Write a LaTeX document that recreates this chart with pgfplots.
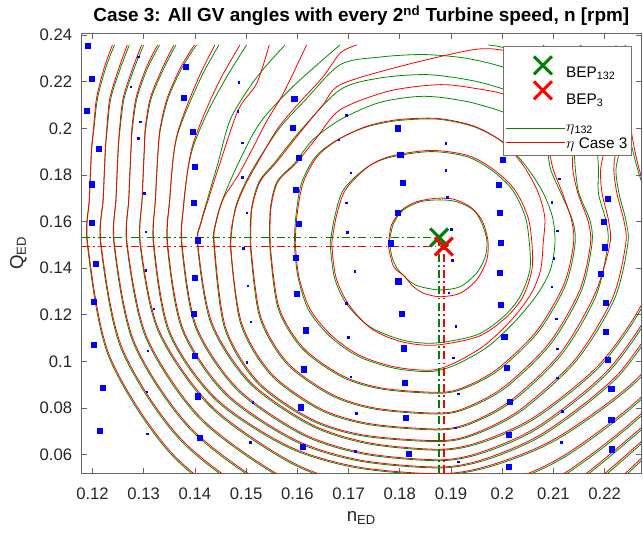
\documentclass[border=0pt]{standalone}
\usepackage{fontspec}
\setmainfont{Liberation Sans}
\usepackage{pgfplots}
\pgfplotsset{compat=1.18}
\definecolor{cg}{rgb}{0,0.5,0}
\definecolor{cgl}{rgb}{0,0.55,0}
\pgfplotsset{
 gc/.style={color=cgl, line width=0.6pt, smooth, no markers, forget plot},
 rc/.style={color=red, line width=0.6pt, smooth, no markers, forget plot}
}
\begin{document}
\begin{tikzpicture}
\begin{axis}[
 at={(0pt,0pt)}, anchor=south west,
 scale only axis, width=419.5pt, height=330pt,
 xmin=0.1179, xmax=0.2271, ymin=0.0521, ymax=0.2407,
 xtick={0.12,0.13,0.14,0.15,0.16,0.17,0.18,0.19,0.20,0.21,0.22},
 xticklabels={0.12,0.13,0.14,0.15,0.16,0.17,0.18,0.19,0.2,0.21,0.22},
 ytick={0.06,0.08,0.10,0.12,0.14,0.16,0.18,0.20,0.22,0.24},
 yticklabels={0.06,0.08,0.1,0.12,0.14,0.16,0.18,0.2,0.22,0.24},
 tick align=inside, major tick length=4pt,
 axis line style={black!60, line width=0.6pt},
 every tick/.style={black!60, line width=0.6pt},
 xticklabel style={font=\fontsize{12.5}{14}\selectfont, anchor=base, inner sep=0pt, yshift=-20pt, text=black!85},
 yticklabel style={font=\fontsize{12.5}{14}\selectfont, anchor=east, inner sep=0pt, xshift=-7pt, text=black!85},
 xlabel={n\textsubscript{ED}},
 ylabel={Q\textsubscript{ED}},
 xlabel style={at={(axis description cs:0.5,-0.1106)}, anchor=base, font=\fontsize{14}{16}\selectfont, inner sep=0pt, text=black!85},
 ylabel style={at={(axis description cs:-0.105,0.5)}, anchor=base, rotate=0, font=\fontsize{14}{16}\selectfont, inner sep=0pt, text=black!85},
 title={Case 3: All GV angles with every 2\textsuperscript{nd} Turbine speed, n [rpm]},
 every axis title/.style={at={(axis description cs:0.5,1.0258)}, anchor=base, font=\bfseries\fontsize{14.2}{16}\selectfont, inner sep=0pt},
 legend style={at={(0.9834,0.9711)}, anchor=north east, draw=black!55, fill=white, line width=0.5pt,
   font=\fontsize{11.5}{13}\selectfont, inner xsep=1.7pt, inner ysep=3.5pt,
   nodes={inner ysep=0pt, inner xsep=1.3pt}, row sep=0pt},
 legend cell align=left,
]
% ---------------- green contours (eta 132) ----------------
\addplot[gc] coordinates {(0.1780,0.1521)(0.1781,0.1493)(0.1786,0.1440)(0.1797,0.1393)(0.1820,0.1343)(0.1840,0.1321)(0.1879,0.1307)(0.1918,0.1321)(0.1950,0.1379)(0.1967,0.1450)(0.1970,0.1521)(0.1960,0.1593)(0.1944,0.1650)(0.1911,0.1685)(0.1879,0.1693)(0.1840,0.1685)(0.1807,0.1650)(0.1788,0.1593)(0.1780,0.1521)};
\addplot[gc] coordinates {(0.1664,0.1507)(0.1673,0.1621)(0.1690,0.1736)(0.1734,0.1830)(0.1780,0.1875)(0.1860,0.1900)(0.1930,0.1879)(0.1979,0.1821)(0.2020,0.1736)(0.2045,0.1621)(0.2053,0.1507)(0.2054,0.1393)(0.2035,0.1279)(0.2003,0.1193)(0.1950,0.1114)(0.1867,0.1079)(0.1804,0.1093)(0.1741,0.1150)(0.1695,0.1250)(0.1672,0.1364)(0.1664,0.1507)};
\addplot[gc] coordinates {(0.1594,0.1507)(0.1597,0.1621)(0.1608,0.1764)(0.1636,0.1879)(0.1678,0.1950)(0.1734,0.2005)(0.1797,0.2033)(0.1874,0.2039)(0.1944,0.2007)(0.2000,0.1943)(0.2042,0.1850)(0.2077,0.1736)(0.2098,0.1621)(0.2103,0.1507)(0.2094,0.1393)(0.2070,0.1293)(0.2028,0.1179)(0.1972,0.1064)(0.1909,0.0986)(0.1860,0.0957)(0.1790,0.0971)(0.1720,0.1021)(0.1664,0.1107)(0.1622,0.1221)(0.1601,0.1364)(0.1594,0.1507)};
\addplot[gc] coordinates {(0.1546,0.1500)(0.1547,0.1650)(0.1560,0.1770)(0.1595,0.1851)(0.1630,0.1950)(0.1684,0.2037)(0.1760,0.2110)(0.1846,0.2137)(0.1930,0.2115)(0.2006,0.2066)(0.2050,0.2010)(0.2075,0.1950)(0.2088,0.1900)(0.2095,0.1820)(0.2115,0.1720)(0.2138,0.1600)(0.2142,0.1500)(0.2123,0.1324)(0.2070,0.1126)(0.1994,0.0965)(0.1932,0.0890)(0.1880,0.0864)(0.1767,0.0881)(0.1688,0.0933)(0.1610,0.1054)(0.1562,0.1231)(0.1546,0.1500)};
\addplot[gc] coordinates {(0.1508,0.1500)(0.1510,0.1650)(0.1525,0.1770)(0.1555,0.1851)(0.1610,0.2000)(0.1684,0.2166)(0.1760,0.2215)(0.1853,0.2230)(0.1940,0.2205)(0.2006,0.2165)(0.2060,0.2110)(0.2105,0.2040)(0.2130,0.1960)(0.2140,0.1900)(0.2143,0.1820)(0.2150,0.1720)(0.2172,0.1600)(0.2175,0.1500)(0.2154,0.1300)(0.2094,0.1073)(0.2008,0.0890)(0.1938,0.0805)(0.1880,0.0775)(0.1754,0.0795)(0.1667,0.0854)(0.1579,0.0991)(0.1526,0.1193)(0.1508,0.1500)};
\addplot[gc] coordinates {(0.1469,0.1500)(0.1478,0.1650)(0.1495,0.1750)(0.1520,0.1851)(0.1565,0.2000)(0.1615,0.2120)(0.1684,0.2273)(0.1760,0.2305)(0.1846,0.2316)(0.1930,0.2300)(0.2006,0.2259)(0.2075,0.2190)(0.2135,0.2100)(0.2170,0.2000)(0.2185,0.1900)(0.2188,0.1820)(0.2188,0.1720)(0.2203,0.1600)(0.2206,0.1500)(0.2183,0.1281)(0.2117,0.1033)(0.2022,0.0833)(0.1945,0.0739)(0.1880,0.0707)(0.1741,0.0729)(0.1644,0.0793)(0.1548,0.0943)(0.1489,0.1164)(0.1469,0.1500)};
\addplot[gc] coordinates {(0.1683,0.2357)(0.1592,0.2180)(0.1527,0.2023)(0.1485,0.1851)(0.1455,0.1700)(0.1441,0.1600)(0.1437,0.1500)(0.1458,0.1143)(0.1522,0.0908)(0.1626,0.0749)(0.1730,0.0680)(0.1880,0.0657)(0.1952,0.0691)(0.2039,0.0791)(0.2145,0.1004)(0.2219,0.1267)(0.2245,0.1500)(0.2242,0.1600)(0.2228,0.1720)(0.2222,0.1820)(0.2228,0.1900)(0.2225,0.2000)(0.2200,0.2100)(0.2150,0.2200)(0.2080,0.2290)(0.2006,0.2344)(0.1973,0.2357)};
\addplot[gc] coordinates {(0.1576,0.2357)(0.1540,0.2270)(0.1508,0.2180)(0.1469,0.2037)(0.1445,0.1851)(0.1425,0.1700)(0.1412,0.1600)(0.1405,0.1500)(0.1431,0.1165)(0.1506,0.0909)(0.1625,0.0727)(0.1739,0.0647)(0.1880,0.0620)(0.1965,0.0656)(0.2067,0.0760)(0.2192,0.0982)(0.2279,0.1257)(0.2310,0.1500)(0.2290,0.1650)(0.2265,0.1820)(0.2250,0.1950)(0.2235,0.2100)(0.2226,0.2264)(0.2222,0.2357)};
\addplot[gc] coordinates {(0.1501,0.2357)(0.1462,0.2220)(0.1425,0.2070)(0.1398,0.1930)(0.1386,0.1820)(0.1378,0.1670)(0.1374,0.1500)(0.1401,0.1148)(0.1482,0.0879)(0.1609,0.0687)(0.1730,0.0603)(0.1880,0.0575)(0.1969,0.0613)(0.2076,0.0722)(0.2208,0.0956)(0.2299,0.1245)(0.2331,0.1500)};
\addplot[gc] coordinates {(0.1447,0.2357)(0.1417,0.2240)(0.1388,0.2100)(0.1367,0.1980)(0.1358,0.1880)(0.1351,0.1700)(0.1346,0.1500)(0.1375,0.1136)(0.1460,0.0858)(0.1594,0.0660)(0.1722,0.0573)(0.1880,0.0544)(0.1975,0.0583)(0.2088,0.0696)(0.2227,0.0937)(0.2324,0.1236)};
\addplot[gc] coordinates {(0.1403,0.2357)(0.1375,0.2260)(0.1348,0.2130)(0.1333,0.2000)(0.1328,0.1900)(0.1323,0.1700)(0.1319,0.1500)(0.1349,0.1125)(0.1439,0.0838)(0.1579,0.0635)(0.1714,0.0545)(0.1880,0.0515)(0.1985,0.0555)(0.2111,0.0671)(0.2265,0.0920)(0.2372,0.1228)};
\addplot[gc] coordinates {(0.1363,0.2357)(0.1340,0.2260)(0.1315,0.2130)(0.1304,0.2000)(0.1301,0.1900)(0.1297,0.1700)(0.1293,0.1500)(0.1328,0.1131)(0.1430,0.0806)(0.1587,0.0565)(0.1728,0.0457)(0.1880,0.0420)(0.1990,0.0464)(0.2122,0.0591)(0.2284,0.0864)(0.2396,0.1200)};
\addplot[gc] coordinates {(0.1331,0.2357)(0.1308,0.2260)(0.1287,0.2130)(0.1278,0.2000)(0.1275,0.1900)(0.1271,0.1700)(0.1267,0.1500)(0.1304,0.1103)(0.1410,0.0754)(0.1574,0.0495)(0.1721,0.0379)(0.1880,0.0340)(0.1993,0.0387)(0.2129,0.0524)(0.2295,0.0817)(0.2411,0.1180)};
\addplot[gc] coordinates {(0.1300,0.2357)(0.1282,0.2260)(0.1262,0.2130)(0.1254,0.2000)(0.1250,0.1900)(0.1246,0.1700)(0.1242,0.1500)(0.1280,0.1079)(0.1391,0.0709)(0.1561,0.0435)(0.1715,0.0312)(0.1880,0.0270)(0.1997,0.0320)(0.2136,0.0465)(0.2308,0.0776)};
\addplot[gc] coordinates {(0.1272,0.2357)(0.1255,0.2260)(0.1236,0.2130)(0.1229,0.2000)(0.1225,0.1900)(0.1221,0.1700)(0.1216,0.1500)(0.1256,0.1055)(0.1371,0.0664)(0.1548,0.0374)(0.1708,0.0244)(0.1880,0.0200)(0.1999,0.0253)(0.2141,0.0406)(0.2316,0.0735)};
\addplot[gc] coordinates {(0.1243,0.2357)(0.1226,0.2260)(0.1210,0.2130)(0.1203,0.2000)(0.1198,0.1900)(0.1194,0.1700)(0.1190,0.1500)(0.1231,0.1025)(0.1352,0.0606)(0.1535,0.0296)(0.1701,0.0157)(0.1880,0.0110)(0.2001,0.0167)(0.2146,0.0330)(0.2323,0.0682)};
% ---------------- red contours (eta Case 3) ----------------
\addplot[rc] coordinates {(0.1779,0.1521)(0.1778,0.1493)(0.1788,0.1407)(0.1810,0.1364)(0.1823,0.1328)(0.1846,0.1293)(0.1879,0.1278)(0.1918,0.1293)(0.1950,0.1350)(0.1970,0.1436)(0.1972,0.1521)(0.1960,0.1607)(0.1937,0.1664)(0.1905,0.1696)(0.1872,0.1700)(0.1833,0.1685)(0.1804,0.1650)(0.1784,0.1586)(0.1779,0.1521)};
\addplot[rc] coordinates {(0.1667,0.1507)(0.1676,0.1621)(0.1694,0.1736)(0.1737,0.1833)(0.1782,0.1880)(0.1860,0.1905)(0.1932,0.1884)(0.1982,0.1825)(0.2024,0.1738)(0.2050,0.1621)(0.2058,0.1507)(0.2058,0.1393)(0.2040,0.1276)(0.2007,0.1188)(0.1953,0.1107)(0.1867,0.1070)(0.1802,0.1086)(0.1745,0.1140)(0.1700,0.1245)(0.1675,0.1364)(0.1667,0.1507)};
\addplot[rc] coordinates {(0.1596,0.1507)(0.1599,0.1621)(0.1611,0.1764)(0.1639,0.1879)(0.1681,0.1953)(0.1736,0.2009)(0.1797,0.2037)(0.1874,0.2042)(0.1944,0.2010)(0.1998,0.1945)(0.2038,0.1850)(0.2068,0.1736)(0.2083,0.1621)(0.2080,0.1507)(0.2075,0.1393)(0.2057,0.1293)(0.2020,0.1183)(0.1966,0.1070)(0.1905,0.0992)(0.1860,0.0963)(0.1790,0.0977)(0.1722,0.1026)(0.1667,0.1111)(0.1625,0.1224)(0.1603,0.1364)(0.1596,0.1507)};
\addplot[rc] coordinates {(0.1547,0.1500)(0.1548,0.1650)(0.1562,0.1770)(0.1598,0.1851)(0.1638,0.1960)(0.1684,0.2080)(0.1780,0.2160)(0.1879,0.2187)(0.1950,0.2170)(0.2006,0.2144)(0.2050,0.2090)(0.2080,0.2010)(0.2092,0.1900)(0.2100,0.1820)(0.2118,0.1720)(0.2136,0.1600)(0.2139,0.1500)(0.2120,0.1328)(0.2067,0.1130)(0.1991,0.0969)(0.1930,0.0894)(0.1880,0.0868)(0.1769,0.0885)(0.1690,0.0937)(0.1612,0.1058)(0.1564,0.1233)(0.1547,0.1500)};
\addplot[rc] coordinates {(0.1509,0.1500)(0.1511,0.1650)(0.1527,0.1770)(0.1558,0.1851)(0.1612,0.2000)(0.1650,0.2100)(0.1684,0.2187)(0.1800,0.2265)(0.1944,0.2337)(0.2006,0.2333)(0.2060,0.2300)(0.2110,0.2220)(0.2135,0.2100)(0.2140,0.2000)(0.2138,0.1900)(0.2138,0.1820)(0.2148,0.1720)(0.2168,0.1600)(0.2172,0.1500)(0.2151,0.1304)(0.2091,0.1077)(0.2005,0.0894)(0.1936,0.0809)(0.1880,0.0779)(0.1756,0.0799)(0.1669,0.0858)(0.1581,0.0995)(0.1528,0.1195)(0.1509,0.1500)};
\addplot[rc] coordinates {(0.1716,0.2357)(0.1684,0.2323)(0.1650,0.2220)(0.1600,0.2100)(0.1562,0.2000)(0.1522,0.1851)(0.1497,0.1750)(0.1479,0.1650)(0.1470,0.1500)(0.1491,0.1166)(0.1550,0.0947)(0.1646,0.0797)(0.1743,0.0733)(0.1880,0.0711)(0.1943,0.0743)(0.2019,0.0837)(0.2114,0.1037)(0.2180,0.1285)(0.2210,0.1500)(0.2208,0.1600)(0.2195,0.1720)(0.2192,0.1820)(0.2198,0.1900)(0.2195,0.2000)(0.2175,0.2100)(0.2140,0.2210)(0.2080,0.2357)};
\addplot[rc] coordinates {(0.1618,0.2357)(0.1573,0.2151)(0.1540,0.2030)(0.1515,0.1923)(0.1485,0.1800)(0.1456,0.1700)(0.1442,0.1600)(0.1438,0.1500)(0.1460,0.1145)(0.1524,0.0912)(0.1628,0.0753)(0.1732,0.0684)(0.1880,0.0661)(0.1950,0.0695)(0.2036,0.0795)(0.2142,0.1008)(0.2215,0.1270)(0.2241,0.1500)(0.2238,0.1600)(0.2224,0.1720)(0.2218,0.1820)(0.2222,0.1900)(0.2236,0.2000)(0.2230,0.2100)(0.2200,0.2250)(0.2152,0.2357)};
\addplot[rc] coordinates {(0.1545,0.2357)(0.1521,0.2194)(0.1485,0.2080)(0.1449,0.1851)(0.1427,0.1700)(0.1413,0.1600)(0.1406,0.1500)(0.1433,0.1167)(0.1508,0.0913)(0.1627,0.0731)(0.1741,0.0651)(0.1880,0.0624)(0.1962,0.0660)(0.2064,0.0764)(0.2189,0.0986)(0.2276,0.1260)(0.2305,0.1500)(0.2290,0.1680)(0.2268,0.1820)(0.2255,0.1950)(0.2245,0.2100)(0.2240,0.2357)};
\addplot[rc] coordinates {(0.1488,0.2357)(0.1452,0.2220)(0.1420,0.2070)(0.1396,0.1930)(0.1386,0.1820)(0.1378,0.1670)(0.1375,0.1500)(0.1403,0.1150)(0.1484,0.0883)(0.1611,0.0691)(0.1732,0.0607)(0.1880,0.0579)(0.1966,0.0617)(0.2073,0.0726)(0.2205,0.0960)(0.2296,0.1248)(0.2328,0.1500)};
\addplot[rc] coordinates {(0.1439,0.2357)(0.1412,0.2240)(0.1385,0.2100)(0.1366,0.1980)(0.1358,0.1880)(0.1351,0.1700)(0.1347,0.1500)(0.1377,0.1138)(0.1462,0.0862)(0.1596,0.0664)(0.1724,0.0577)(0.1880,0.0548)(0.1972,0.0587)(0.2085,0.0700)(0.2224,0.0941)(0.2321,0.1240)};
\addplot[rc] coordinates {(0.1399,0.2357)(0.1372,0.2260)(0.1346,0.2130)(0.1332,0.2000)(0.1328,0.1900)(0.1323,0.1700)(0.1320,0.1500)(0.1351,0.1127)(0.1441,0.0842)(0.1581,0.0639)(0.1716,0.0549)(0.1880,0.0519)(0.1982,0.0559)(0.2108,0.0675)(0.2262,0.0924)(0.2369,0.1232)};
\addplot[rc] coordinates {(0.1359,0.2357)(0.1337,0.2260)(0.1313,0.2130)(0.1303,0.2000)(0.1301,0.1900)(0.1297,0.1700)(0.1294,0.1500)(0.1330,0.1133)(0.1432,0.0810)(0.1589,0.0569)(0.1730,0.0461)(0.1880,0.0424)(0.1987,0.0468)(0.2119,0.0595)(0.2281,0.0868)(0.2393,0.1204)};
\addplot[rc] coordinates {(0.1327,0.2357)(0.1305,0.2260)(0.1285,0.2130)(0.1277,0.2000)(0.1275,0.1900)(0.1271,0.1700)(0.1268,0.1500)(0.1306,0.1105)(0.1412,0.0758)(0.1576,0.0499)(0.1723,0.0383)(0.1880,0.0344)(0.1990,0.0391)(0.2126,0.0528)(0.2292,0.0821)(0.2408,0.1184)};
\addplot[rc] coordinates {(0.1296,0.2357)(0.1279,0.2260)(0.1260,0.2130)(0.1253,0.2000)(0.1250,0.1900)(0.1246,0.1700)(0.1243,0.1500)(0.1282,0.1081)(0.1393,0.0713)(0.1563,0.0439)(0.1717,0.0316)(0.1880,0.0274)(0.1994,0.0324)(0.2133,0.0469)(0.2305,0.0780)};
\addplot[rc] coordinates {(0.1268,0.2357)(0.1252,0.2260)(0.1234,0.2130)(0.1228,0.2000)(0.1225,0.1900)(0.1221,0.1700)(0.1217,0.1500)(0.1258,0.1057)(0.1373,0.0668)(0.1550,0.0378)(0.1710,0.0248)(0.1880,0.0204)(0.1996,0.0257)(0.2138,0.0410)(0.2313,0.0739)};
\addplot[rc] coordinates {(0.1239,0.2357)(0.1223,0.2260)(0.1208,0.2130)(0.1202,0.2000)(0.1198,0.1900)(0.1194,0.1700)(0.1191,0.1500)(0.1233,0.1027)(0.1354,0.0610)(0.1537,0.0300)(0.1703,0.0161)(0.1880,0.0114)(0.1998,0.0171)(0.2143,0.0334)(0.2320,0.0686)};
% ---------------- measured points ----------------
\addplot[only marks, mark=square*, mark size=1.9pt, mark options={draw=blue, fill=blue}, forget plot] coordinates {
(0.1191,0.2354)(0.1198,0.2213)(0.1189,0.2074)(0.1213,0.1911)(0.1198,0.1760)(0.1198,0.1593)(0.1206,0.1421)(0.1202,0.1257)(0.1202,0.1070)(0.1220,0.0887)(0.1215,0.0703)
(0.1383,0.2262)(0.1379,0.2129)(0.1396,0.1983)(0.1400,0.1833)(0.1398,0.1681)(0.1405,0.1520)(0.1399,0.1360)(0.1398,0.1204)(0.1400,0.1025)(0.1405,0.0851)(0.1409,0.0673)
(0.1594,0.2126)(0.1591,0.2004)(0.1602,0.1872)(0.1597,0.1736)(0.1603,0.1591)(0.1597,0.1443)(0.1598,0.1290)(0.1616,0.1134)(0.1613,0.0967)(0.1606,0.0804)(0.1611,0.0635)
(0.1796,0.2000)(0.1801,0.1887)(0.1806,0.1766)(0.1796,0.1638)(0.1782,0.1507)(0.1797,0.1344)(0.1804,0.1205)(0.1808,0.1057)(0.1810,0.0910)(0.1811,0.0758)(0.1818,0.0604)
(0.2001,0.1866)(0.1994,0.1756)(0.1995,0.1638)(0.1997,0.1511)(0.1995,0.1381)(0.1998,0.1244)(0.2004,0.1106)(0.2008,0.0974)(0.2015,0.0826)(0.2012,0.0688)(0.2013,0.0547)
(0.2207,0.1697)(0.2198,0.1600)(0.2200,0.1490)(0.2193,0.1376)(0.2202,0.1250)(0.2202,0.1128)(0.2207,0.1007)(0.2213,0.0884)(0.2213,0.0750)(0.2214,0.0624)};
\addplot[only marks, mark=square*, mark size=0.6pt, mark options={draw=blue, fill=blue}, forget plot] coordinates {
(0.1289,0.2307)(0.1275,0.2178)(0.1293,0.2028)(0.1289,0.1957)(0.1301,0.1721)(0.1304,0.1557)(0.1304,0.1390)(0.1320,0.1226)(0.1308,0.1047)(0.1306,0.0871)(0.1307,0.0691)
(0.1486,0.2197)(0.1484,0.2074)(0.1492,0.1938)(0.1492,0.1791)(0.1501,0.1638)(0.1495,0.1486)(0.1503,0.1324)(0.1509,0.1171)(0.1501,0.0997)(0.1513,0.0826)(0.1508,0.0655)
(0.1696,0.2057)(0.1681,0.1950)(0.1704,0.1810)(0.1695,0.1681)(0.1698,0.1554)(0.1712,0.1387)(0.1696,0.1250)(0.1700,0.1103)(0.1704,0.0935)(0.1715,0.0777)(0.1713,0.0616)
(0.1890,0.1936)(0.1890,0.1821)(0.1893,0.1703)(0.1900,0.1567)(0.1902,0.1433)(0.1896,0.1295)(0.1909,0.1150)(0.1905,0.1017)(0.1914,0.0861)(0.1908,0.0716)(0.1914,0.0570)
(0.2111,0.1783)(0.2097,0.1683)(0.2107,0.1561)(0.2101,0.1443)(0.2097,0.1320)(0.2105,0.1183)(0.2107,0.1055)(0.2108,0.0931)(0.2117,0.0788)(0.2115,0.0654)};
% ---------------- BEP guide lines ----------------
\addplot[cg, line width=1.1pt, dash pattern=on 6pt off 2.5pt on 1.2pt off 2.5pt, forget plot] coordinates {(0.1179,0.1532)(0.1877,0.1532)};
\addplot[cg, line width=1.1pt, dash pattern=on 6pt off 2.5pt on 1.2pt off 2.5pt, forget plot] coordinates {(0.1877,0.0521)(0.1877,0.1532)};
\addplot[red, line width=1.1pt, dash pattern=on 6pt off 2.5pt on 1.2pt off 2.5pt, forget plot] coordinates {(0.1179,0.1493)(0.1886,0.1493)};
\addplot[red, line width=1.1pt, dash pattern=on 6pt off 2.5pt on 1.2pt off 2.5pt, forget plot] coordinates {(0.1886,0.0521)(0.1886,0.1493)};
% ---------------- BEP markers ----------------
\addplot[only marks, mark=x, mark size=9.5pt, mark options={line width=2.3pt, draw=cg}, forget plot] coordinates {(0.1877,0.1532)};
\addplot[only marks, mark=x, mark size=9.5pt, mark options={line width=2.3pt, draw=red}, forget plot] coordinates {(0.1886,0.1493)};
% ---------------- legend ----------------
\addlegendimage{legend image code/.code={\path[draw=none] (0pt,-9.34pt) -- (44pt,9.34pt); \draw[overlay, draw=cg, line width=2.3pt] (21.05pt,-8.15pt) -- (34.55pt,5.35pt) (21.05pt,5.35pt) -- (34.55pt,-8.15pt);}}
\addlegendentry{\smash{\raisebox{-11.1pt}{BEP\textsubscript{132}}}}
\addlegendimage{legend image code/.code={\path[draw=none] (0pt,-9.34pt) -- (44pt,9.34pt); \draw[overlay, draw=red, line width=2.3pt] (21.05pt,-8.25pt) -- (34.55pt,5.25pt) (21.05pt,5.25pt) -- (34.55pt,-8.25pt);}}
\addlegendentry{\smash{\raisebox{-12.7pt}{BEP\textsubscript{3}}}}
\addlegendimage{legend image code/.code={\path[draw=none] (0pt,-9.34pt) -- (44pt,9.34pt); \draw[overlay, draw=cgl, line width=0.6pt] (0pt,-11.5pt) -- (44pt,-11.5pt);}}
\addlegendentry{\smash{\raisebox{-14.2pt}{$\eta$\textsubscript{132}}}}
\addlegendimage{legend image code/.code={\path[draw=none] (0pt,-9.34pt) -- (44pt,9.34pt); \draw[overlay, draw=red, line width=0.6pt] (0pt,-2.9pt) -- (44pt,-2.9pt);}}
\addlegendentry{\smash{\raisebox{-8.3pt}{$\eta$ Case 3}}}
\end{axis}
\pgfresetboundingbox
\path[use as bounding box] (-61.3pt,-48.5pt) rectangle (421pt,355pt);
\end{tikzpicture}
\end{document}
